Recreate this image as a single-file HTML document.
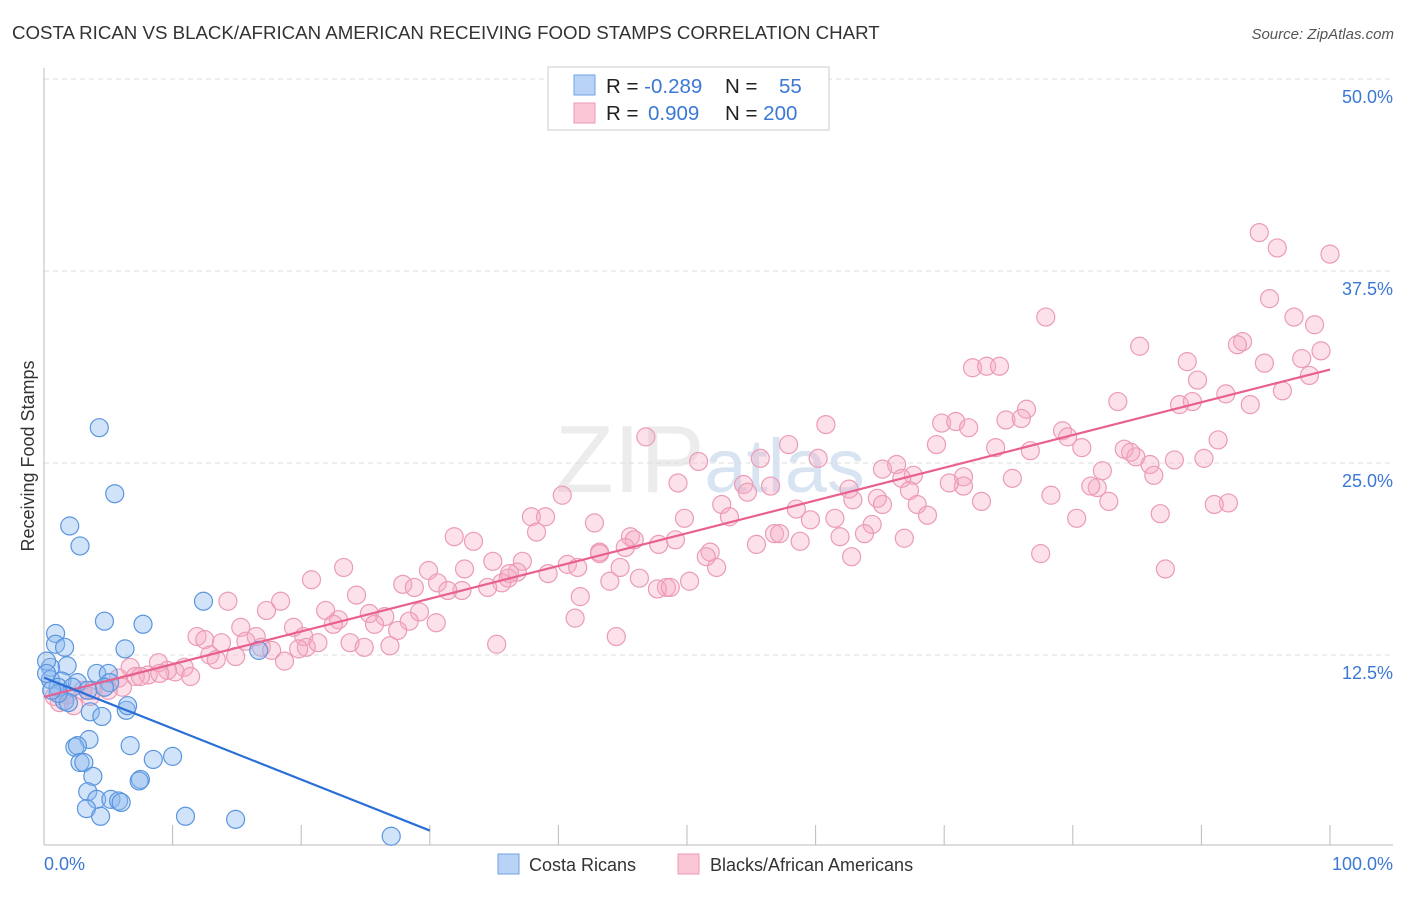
<!DOCTYPE html>
<html><head><meta charset="utf-8"><style>
body{margin:0;background:#fff;font-family:"Liberation Sans",sans-serif;}
svg text{font-family:"Liberation Sans",sans-serif;}
</style></head><body>
<svg id="chart" width="1406" height="892" viewBox="0 0 1406 892" xmlns="http://www.w3.org/2000/svg">
<text x="12" y="39" font-size="18.7" fill="#333">COSTA RICAN VS BLACK/AFRICAN AMERICAN RECEIVING FOOD STAMPS CORRELATION CHART</text>
<text x="1394" y="39" font-size="15" fill="#555" font-style="italic" text-anchor="end">Source: ZipAtlas.com</text>
<text x="555" y="492" font-size="96" fill="#ddd" opacity="0.55" font-family="Liberation Serif">ZIP<tspan font-family="Liberation Sans" font-size="76" fill="#b9cfe9">atlas</tspan></text>
<g id="grid"></g>
<g id="axes"></g>
<g id="marks"></g>
<text transform="translate(34,456) rotate(-90)" font-size="18" fill="#333" text-anchor="middle">Receiving Food Stamps</text>
<g>
<rect x="548" y="67" width="281" height="63" fill="#fff" stroke="#ccc"/>
<rect x="574" y="75" width="21" height="20" fill="#b8d3f5" stroke="#6fa2e6"/>
<rect x="574" y="103" width="21" height="20" fill="#fbc7d6" stroke="#ec98b3"/>
<text x="606" y="93" font-size="20.5" fill="#222">R = <tspan fill="#3b78d4">-0.289</tspan></text>
<text x="725" y="93" font-size="20.5" fill="#222">N = <tspan fill="#3b78d4" x="779">55</tspan></text>
<text x="606" y="120" font-size="20.5" fill="#222">R = <tspan fill="#3b78d4" x="648">0.909</tspan></text>
<text x="725" y="120" font-size="20.5" fill="#222">N = <tspan fill="#3b78d4">200</tspan></text>
</g>
<g>
<rect x="498" y="854" width="21" height="20" fill="#b8d3f5" stroke="#6fa2e6"/>
<text x="529" y="871" font-size="18" fill="#333">Costa Ricans</text>
<rect x="678" y="854" width="21" height="20" fill="#fbc7d6" stroke="#ec98b3"/>
<text x="710" y="871" font-size="18" fill="#333">Blacks/African Americans</text>
</g>
</svg>
<script>
const yTicks=[12.5,25,37.5,50];
const yTickLabels=["12.5%","25.0%","37.5%","50.0%"];
const xTickValues=[10,20,30,40,50,60,70,80,90,100];
const xEndLabels=["0.0%","100.0%"];
const blueX=[4.3,5.5,2.0,2.8,12.4,4.7,7.7,6.3,16.7,0.9,0.9,1.6,1.8,0.5,0.5,1.4,2.6,4.1,5.0,5.1,4.7,1.1,2.2,3.4,1.6,1.9,3.6,4.5,6.4,6.5,1.1,3.5,2.4,2.6,6.7,2.8,3.1,3.8,8.5,10.0,7.5,7.4,3.4,4.1,5.2,5.8,6.0,3.3,4.4,11.0,14.9,27.0,0.6,0.2,0.2];
const blueY=[27.3,23.0,20.9,19.6,16.0,14.7,14.5,12.9,12.8,13.9,13.2,13.0,11.8,11.7,10.9,10.8,10.7,11.3,11.3,10.7,10.4,10.4,10.4,10.2,9.5,9.4,8.8,8.5,8.9,9.2,10.0,7.0,6.5,6.6,6.6,5.5,5.5,4.6,5.7,5.9,4.4,4.3,3.6,3.1,3.1,3.0,2.9,2.5,2.0,2.0,1.8,0.7,10.2,12.1,11.3];
const pinkX=[94.5,95.9,100.0,95.3,77.9,97.2,98.8,93.2,92.8,85.2,99.3,97.8,94.9,88.9,72.2,73.3,74.3,89.7,98.4,96.3,91.9,83.5,88.3,89.3,76.4,93.8,74.8,76.0,69.8,70.9,71.9,60.8,79.2,79.6,46.8,91.3,69.4,74.0,80.7,57.9,84.0,84.9,84.5,50.9,76.7,55.7,60.2,86.0,87.9,90.2,65.2,66.3,82.3,67.6,86.3,75.3,71.5,71.5,49.3,54.4,54.7,62.6,56.5,81.9,81.4,66.7,67.3,70.4,78.3,40.3,62.9,64.8,82.8,65.2,67.9,52.7,92.1,91.0,72.9,86.8,53.3,58.5,59.6,61.5,68.7,49.8,37.9,39.0,42.8,38.3,64.4,61.9,80.3,56.8,57.2,55.4,63.8,58.8,66.9,45.6,49.1,31.9,33.4,45.9,45.2,43.2,47.8,43.2,51.8,51.5,62.8,77.5,34.9,37.2,32.7,29.9,23.3,20.8,36.8,39.2,40.7,44.8,36.1,41.5,36.2,46.3,27.9,30.6,50.2,52.3,87.2,44.0,35.6,48.4,34.5,32.5,28.8,31.4,24.3,41.7,47.7,48.7,14.3,18.4,17.3,21.9,29.2,25.3,26.5,22.9,28.4,25.7,30.5,41.3,15.3,19.4,22.5,27.5,20.2,16.5,11.9,44.5,23.8,15.7,12.5,16.9,13.8,20.4,26.9,24.9,35.2,21.3,17.7,19.8,12.9,14.9,18.7,13.4,8.9,6.7,10.9,10.2,9.6,8.1,5.8,7.1,9.0,7.5,11.4,4.7,6.1,3.8,3.0,1.8,0.8,1.2,5.0,2.3,3.6];
const pinkY=[40.0,39.0,38.6,35.7,34.5,34.5,34.0,32.9,32.7,32.6,32.3,31.8,31.5,31.6,31.2,31.3,31.3,30.4,30.7,29.7,29.5,29.0,28.8,29.0,28.5,28.8,27.8,27.9,27.6,27.7,27.3,27.5,27.1,26.7,26.7,26.5,26.2,26.0,26.0,26.2,25.9,25.4,25.7,25.1,25.8,25.3,25.3,24.9,25.2,25.3,24.6,24.9,24.5,24.2,24.2,24.0,24.1,23.5,23.7,23.6,23.1,23.3,23.5,23.4,23.5,24.0,23.2,23.7,22.9,22.9,22.6,22.7,22.5,22.3,22.3,22.3,22.4,22.3,22.5,21.7,21.5,22.0,21.3,21.4,21.6,21.4,21.5,21.5,21.1,20.5,21.0,20.2,21.4,20.4,20.4,19.7,20.4,19.9,20.1,20.2,20.0,20.2,19.9,20.0,19.5,19.2,19.7,19.1,19.2,18.9,18.9,19.1,18.6,18.6,18.1,18.0,18.2,17.4,17.9,17.8,18.4,18.2,17.5,18.2,17.8,17.5,17.1,17.2,17.3,18.2,18.1,17.3,17.2,16.9,16.9,16.7,16.9,16.7,16.4,16.3,16.8,16.9,16.0,16.0,15.4,15.4,15.3,15.2,15.0,14.8,14.7,14.5,14.6,14.9,14.3,14.3,14.5,14.1,13.7,13.7,13.7,13.7,13.3,13.4,13.5,13.0,13.3,13.0,13.1,13.0,13.2,13.3,12.8,12.9,12.5,12.4,12.1,12.2,12.0,11.7,11.7,11.4,11.5,11.2,11.0,11.1,11.3,11.1,11.1,10.4,10.4,10.2,10.2,9.9,9.8,9.4,10.2,9.2,9.8];

const NS="http://www.w3.org/2000/svg";
const X0=44,X1=1330,Y0=847,Y50=79;
function xs(v){return X0+(X1-X0)*v/100;}
function ys(v){return Y0-(Y0-Y50)*v/50;}
function mk(tag,attrs,parent){const e=document.createElementNS(NS,tag);for(const k in attrs)e.setAttribute(k,attrs[k]);parent.appendChild(e);return e;}
const grid=document.getElementById('grid'),axes=document.getElementById('axes'),marks=document.getElementById('marks');

yTicks.forEach((t,i)=>{
  const l=mk('line',{x1:X0,x2:1393,y1:ys(t),y2:ys(t),stroke:'#ddd','stroke-dasharray':'5,4'},grid);
  
  
  const tx=mk('text',{x:1393,y:ys(t)+24,'font-size':18,fill:'#3b78d4','text-anchor':'end'},axes);
  tx.textContent=yTickLabels[i];
  
  
});
const ya=mk('line',{x1:X0,x2:X0,y1:68,y2:845,stroke:'#bbb'},axes);


const xa=mk('line',{x1:X0,x2:1393,y1:845,y2:845,stroke:'#bbb'},axes);


xTickValues.forEach(v=>{
  const t=mk('line',{x1:xs(v),x2:xs(v),y1:825,y2:845,stroke:'#bbb'},axes);
  
  
});
const xl0=mk('text',{x:X0,y:870,'font-size':18,fill:'#3b78d4'},axes);
xl0.textContent=xEndLabels[0];


const xl1=mk('text',{x:1393,y:870,'font-size':18,fill:'#3b78d4','text-anchor':'end'},axes);
xl1.textContent=xEndLabels[1];



function pts(X,Y,fill,stroke,name){
  X.forEach((x,i)=>{
    const c=mk('circle',{cx:xs(x),cy:ys(Y[i]),r:9,fill:fill,stroke:stroke,'stroke-width':1.2},marks);
    
    
  });
}
function reg(X,Y){const n=X.length;let sx=0,sy=0,sxx=0,sxy=0;for(let i=0;i<n;i++){sx+=X[i];sy+=Y[i];sxx+=X[i]*X[i];sxy+=X[i]*Y[i];}const b=(n*sxy-sx*sy)/(n*sxx-sx*sx);return {b:b,a:(sy-b*sx)/n};}
pts(pinkX,pinkY,'rgba(247,170,195,0.35)','#eb9bb6','point-black-african-american');
pts(blueX,blueY,'rgba(140,185,240,0.4)','#5b95de','point-costa-rican');

const rp=reg(pinkX,pinkY);
const pl=mk('line',{x1:xs(0),y1:ys(rp.a),x2:xs(100),y2:ys(rp.a+rp.b*100),stroke:'#e8608f','stroke-width':2.2},marks);


const rb=reg(blueX,blueY);
let xe=rb.b<0?Math.min(30,-rb.a/rb.b):30;
const bl=mk('line',{x1:xs(0),y1:ys(rb.a),x2:xs(xe),y2:ys(rb.a+rb.b*xe),stroke:'#2a6fd6','stroke-width':2.2},marks);


</script>
</body></html>
